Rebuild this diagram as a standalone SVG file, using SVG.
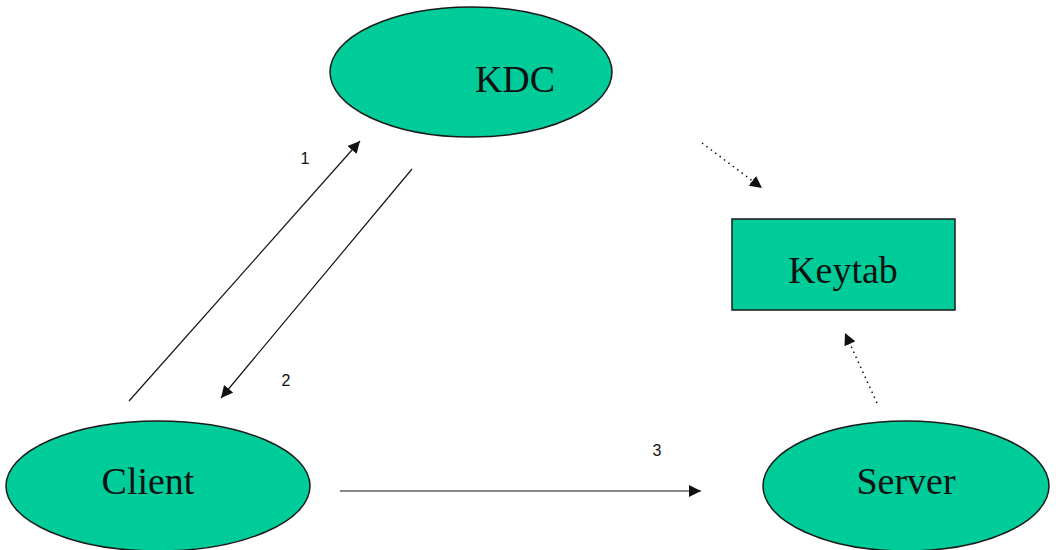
<svg xmlns="http://www.w3.org/2000/svg" width="1056" height="550" viewBox="0 0 1056 550">
<style>
.node{fill:#00CC99;stroke:#1a1a1a;stroke-width:1.5}
.lbl{font-family:"Liberation Serif",serif;font-size:38px;fill:#111;text-anchor:middle}
.num{font-family:"Liberation Sans",sans-serif;font-size:16px;fill:#111;text-anchor:middle}
.ln{stroke:#111;stroke-width:1.2;fill:none}
.dot{stroke:#111;stroke-width:1.5;fill:none;stroke-dasharray:1.5 4}
</style>
<defs>
<marker id="ah" viewBox="0 0 10 10" refX="10" refY="5" markerWidth="12" markerHeight="12" markerUnits="userSpaceOnUse" orient="auto">
<path d="M0,0 L10,5 L0,10 z" fill="#111"/>
</marker>
</defs>
<rect width="1056" height="550" fill="#fff"/>
<g id="kdc"><ellipse class="node" cx="471" cy="72" rx="141" ry="65"/><text class="lbl" x="515" y="92">KDC</text></g>
<g id="keytab"><rect class="node" x="732" y="219" width="223" height="91"/><text class="lbl" x="843" y="283">Keytab</text></g>
<g id="client"><ellipse class="node" cx="158" cy="486" rx="152" ry="65"/><text class="lbl" x="148" y="494">Client</text></g>
<g id="server"><ellipse class="node" cx="906" cy="486" rx="143" ry="65"/><text class="lbl" x="906" y="494">Server</text></g>
<g id="connectors">
<line class="ln" x1="129" y1="401" x2="360" y2="141" marker-end="url(#ah)"/>
<text class="num" x="305" y="164">1</text>
<line class="ln" x1="412" y1="169" x2="221" y2="398" marker-end="url(#ah)"/>
<text class="num" x="286" y="386">2</text>
<line class="ln" x1="340" y1="491" x2="701" y2="491" marker-end="url(#ah)"/>
<text class="num" x="657" y="456">3</text>
<line class="dot" x1="702" y1="143" x2="762" y2="188" marker-end="url(#ah)"/>
<line class="dot" x1="877" y1="403" x2="845" y2="333" marker-end="url(#ah)"/>
</g>
</svg>
